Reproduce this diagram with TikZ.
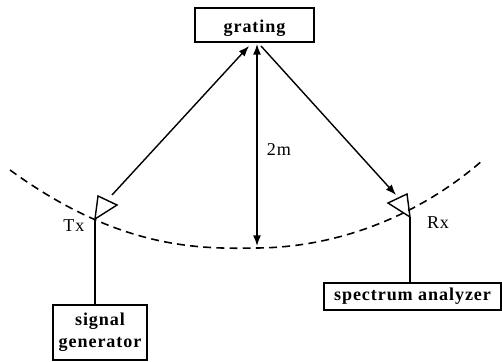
\documentclass[tikz,border=0pt]{standalone}
\usepackage{fontspec}
\setmainfont{Liberation Serif}
\newfontfamily\boxfont[LetterSpace=5]{Liberation Serif}
\usetikzlibrary{arrows.meta}
\tikzstyle{instrument}=[rectangle,draw,line width=0.8pt,inner sep=0pt,align=center,font=\boxfont\bfseries\fontsize{10.3}{12.5}\selectfont]
\tikzstyle{edge} = [draw,line width=0.8pt,-{Latex[length=6pt,width=4.5pt]}]
\tikzstyle{undirectededge} = [draw,line width=0.8pt]
\tikzstyle{horn} = [draw,line width=0.8pt,line join=miter]
\tikzstyle{weight} = [font=\boxfont\fontsize{10.3}{12}\selectfont,inner sep=0pt]
\begin{document}
\begin{tikzpicture}[x=0.02cm,y=-0.02cm]

  \useasboundingbox (0,0) rectangle (502,361);

  \node[instrument,minimum width=119*0.02cm,minimum height=34*0.02cm,text height=9pt,text depth=0pt] (grating) at (254.5,25) {grating};
  \node[instrument,minimum width=94*0.02cm,minimum height=55*0.02cm] (sg) at (100,332.5) {signal\\generator};
  \node[instrument,minimum width=177*0.02cm,minimum height=27*0.02cm] (sa) at (412.5,296.5) {spectrum analyzer};

  \foreach \x/\y/\name/\label in {74/226/tx/Tx, 438/223/rx/Rx, 279/150/dist/2m}
          \node[weight] (\name) at (\x,\y) {\label};

  \foreach \x/\y/\name in {98/196/txa, 117/205/txb, 95/219/txc, 388/203/rxa, 407/194/rxb, 410/217/rxc,
                           112/195/txbeam, 396/195/rxbeam, 249/46/gratl, 261/46/gratr,
                           257/44/gratm, 257/246/low, 10/170/arcl, 483/160/arcr}
          \coordinate (\name) at (\x,\y);

  % horns
  \path[horn] (txa) -- (txb) -- (txc) -- cycle;
  \path[horn] (rxa) -- (rxb) -- (rxc) -- cycle;

  % mirror arc
  \draw[line width=0.9pt,dash pattern=on 4.5pt off 3pt] (arcl) .. controls (120,250) and (200,249) .. (258,248) .. controls (340,247) and (420,215) .. (arcr);

  \foreach \source/ \dest in {txbeam/gratl, gratr/rxbeam}
         \path[edge] (\source) -- (\dest);
  \path[edge,{Latex[length=6pt,width=4.5pt]}-{Latex[length=6pt,width=4.5pt]}] (gratm) -- (low);

  \foreach \source/ \dest in {txc/sg, rxc/sa}
         \path[undirectededge] (\source) -- (\source |- \dest.north);

\end{tikzpicture}
\end{document}
